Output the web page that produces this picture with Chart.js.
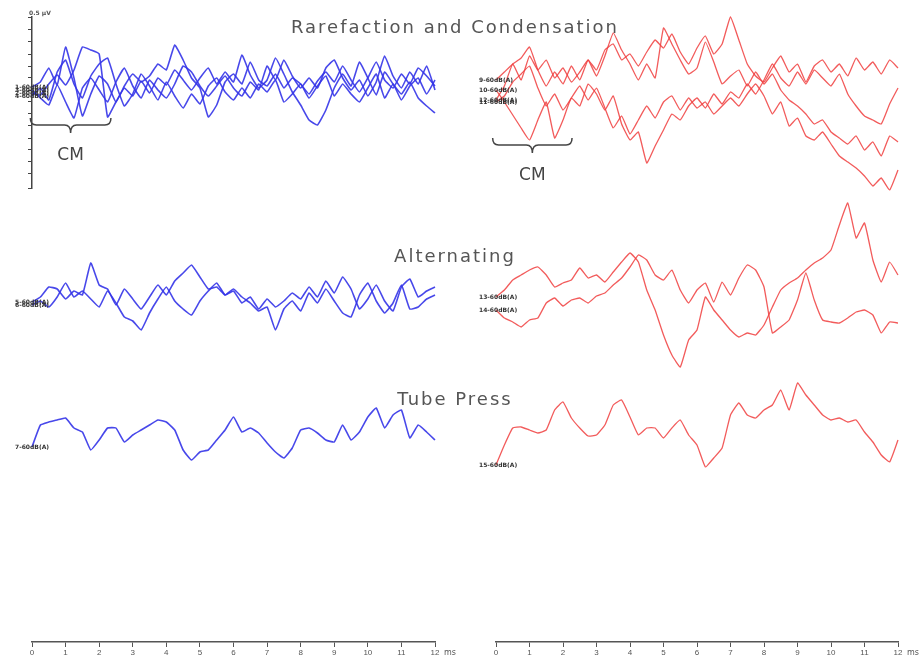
<!DOCTYPE html>
<html>
<head>
<meta charset="utf-8">
<script src="https://cdn.jsdelivr.net/npm/chart.js@4/dist/chart.umd.min.js"></script>
<style>
  html, body { margin: 0; padding: 0; background: #fff; }
  #wrap { position: relative; width: 922px; height: 659px; overflow: hidden; }
  canvas { position: absolute; top: 0; }
  #left { left: 0; }
  #right { left: 461px; }
  .title { position: absolute; transform: translateX(-50%); font: 18px "DejaVu Sans", sans-serif; letter-spacing: 2px; color: #555; white-space: nowrap; line-height: 1; }
</style>
</head>
<body>
<div id="wrap">
  <canvas id="left" width="461" height="659"></canvas>
  <canvas id="right" width="461" height="659"></canvas>
  <div class="title" style="left:455px;top:18px">Rarefaction and Condensation</div>
  <div class="title" style="left:455px;top:247px">Alternating</div>
  <div class="title" style="left:455px;top:390px">Tube Press</div>
</div>
<script>
"use strict";

// Sample times (ms) shared by every trace.
const timeMs = [
  0, 0.25, 0.5, 0.75, 1, 1.25, 1.5, 1.75, 2, 2.25, 2.5, 2.75,
  3, 3.25, 3.5, 3.75, 4, 4.25, 4.5, 4.75, 5, 5.25, 5.5, 5.75,
  6, 6.25, 6.5, 6.75, 7, 7.25, 7.5, 7.75, 8, 8.25, 8.5, 8.75,
  9, 9.25, 9.5, 9.75, 10, 10.25, 10.5, 10.75, 11, 11.25, 11.5, 11.75, 12,
];
const msTicks = [0, 1, 2, 3, 4, 5, 6, 7, 8, 9, 10, 11, 12];

// Rarefaction and Condensation, left (blue)
const leftRare1 = [
  0.3, 0.8, 2.2, 0.5, 4.3, 1.2, -2.6, -0.4, 1.4, 0.6, -1.2, 0.4,
  1.6, 0.8, 1.4, 2.6, 2.0, 4.5, 3.0, 1.2, 0.2, -2.7, -1.5, 0.8,
  1.6, 0.6, 2.8, 1.0, 0.4, 1.6, 0.2, 1.2, 0.6, -0.4, 0.9, 1.8,
  0.8, 2.4, 1.0, -0.2, 1.2, 2.8, 1.0, 0.2, 1.6, 0.6, 2.2, 1.4, 0.4,
];
const leftRare2 = [
  -0.3, -0.5, 0.6, 1.5, 0.5, 2.0, 4.3, 4.0, 3.6, -2.7, -1.2, 0.2,
  -0.6, 0.9, -0.3, 1.2, 0.5, 2.0, 1.0, 0.0, 1.2, 2.2, 0.6, 1.8,
  0.8, 3.5, 1.5, 0.2, 1.0, 3.2, 1.6, -0.2, -1.5, -3.0, -3.5, -2.0,
  0.2, 1.6, 0.4, 2.8, 1.2, -0.5, 1.8, 0.6, -0.4, 0.8, -0.8, -1.6, -2.3,
];
const leftRare3 = [
  0.0, -0.8, -1.5, 0.5, -1.2, -2.8, 0.2, 1.2, 0.0, -1.2, 0.8, 2.2,
  0.4, -0.8, 1.0, 0.0, -0.8, 0.6, 2.4, 1.8, 0.4, -0.6, 0.4, 1.4,
  0.2, -0.6, 0.8, 0.0, 2.4, 1.0, 3.0, 1.4, 0.2, 1.2, 0.2, 2.2,
  3.0, 1.2, 0.0, 1.0, -0.6, 0.8, 3.4, 1.4, 0.2, 1.8, 0.6, 2.4, 0.0,
];
const leftRare4 = [
  -0.6, 0.2, -1.0, 1.8, 3.0, 0.6, -0.8, 1.4, 2.6, 3.2, 0.6, -1.6,
  -0.4, 1.6, 0.4, -1.0, 0.8, -0.6, -1.8, -0.4, -1.4, 0.4, 1.2, -0.2,
  -1.0, 0.2, -0.8, 0.6, -0.2, 1.0, -1.2, -0.4, 0.6, -0.8, 0.4, 1.4,
  -0.6, 0.6, -0.4, -1.2, 0.2, 1.6, -0.8, 0.6, -1.0, 0.4, 1.2, -0.4, 1.0,
];

// Rarefaction and Condensation, right (red)
const rightRare1 = [
  1.0, 1.8, 2.6, 3.2, 4.3, 2.0, 0.4, 1.8, 0.6, 2.4, 1.0, 3.0,
  2.0, 4.0, 4.6, 3.0, 3.6, 2.4, 3.8, 5.0, 4.2, 5.6, 3.8, 2.6,
  4.2, 5.4, 3.6, 4.6, 7.3, 5.0, 2.6, 1.4, 0.8, 2.2, 3.4, 1.8,
  2.6, 0.8, 2.4, 3.0, 1.8, 2.6, 1.4, 3.2, 2.0, 2.8, 1.6, 3.0, 2.2,
];
const rightRare2 = [
  0.0, -1.2, -2.5, -3.8, -5.0, -3.0, -1.2, -4.8, -3.0, -0.8, -1.6, 0.6,
  -0.4, -2.0, -0.6, -3.4, -5.0, -4.2, -7.3, -5.6, -4.0, -2.4, -3.0, -1.6,
  -0.8, -1.8, -0.4, -1.4, -0.2, -0.8, 0.6, -0.4, 1.0, 2.6, 1.2, 0.4,
  1.8, 0.6, 2.0, 1.2, 0.4, 1.6, -0.4, -1.6, -2.6, -3.0, -3.4, -1.4, 0.2,
];
const rightRare3 = [
  -1.2, -0.6, 0.8, 1.6, 2.4, 0.2, -1.6, -0.4, -2.0, -0.8, 0.4, -1.0,
  0.2, -1.8, -3.8, -2.6, -4.4, -3.0, -1.6, -2.8, -1.2, -0.6, -2.0, -0.8,
  -1.8, -1.2, -2.4, -1.6, -0.8, -1.6, -0.4, 0.6, -0.6, -2.4, -1.2, -3.6,
  -2.8, -4.6, -5.0, -4.2, -5.4, -6.6, -7.2, -7.8, -8.6, -9.6, -8.8, -10.0, -8.0,
];
const rightRare4 = [
  -1.0, 0.4, 2.6, 1.0, 3.4, 2.0, 3.0, 1.2, 2.2, 0.8, 1.8, 3.0,
  1.4, 3.4, 5.7, 4.0, 2.6, 1.0, 2.6, 1.2, 6.2, 4.6, 3.0, 1.6,
  2.2, 4.8, 2.8, 0.6, 1.4, 2.0, 0.4, 1.8, 0.6, 1.6, 0.0, -1.0,
  -1.6, -2.4, -3.4, -3.0, -4.2, -4.8, -5.4, -4.6, -6.0, -5.2, -6.6, -4.6, -5.2,
];

// Alternating
const leftAlt1 = [
  0.3, 0.8, 1.8, 1.6, 0.6, 1.4, 1.0, 4.2, 2.0, 1.6, 0.0, 1.6,
  0.6, -0.4, 0.8, 2.0, 1.0, 2.4, 3.2, 4.0, 2.8, 1.6, 1.8, 1.0,
  1.4, 0.2, 0.8, -0.4, 0.6, -0.2, 0.4, 1.2, 0.6, 1.8, 0.8, 2.4,
  1.2, 2.8, 1.6, -0.4, 0.6, 2.0, 0.4, -0.6, 1.8, 2.6, 0.8, 1.4, 1.8,
];
const leftAlt2 = [
  0.0, 0.4, -0.2, 0.8, 2.2, 0.8, 1.4, 0.6, -0.2, 1.4, 0.2, -1.2,
  -1.6, -2.5, -0.8, 0.6, 1.8, 0.4, -0.4, -1.0, 0.4, 1.4, 2.2, 1.0,
  1.6, 0.8, 0.2, -0.6, -0.2, -2.5, -0.4, 0.4, -0.6, 1.2, 0.2, 1.6,
  0.4, -0.8, -1.2, 1.0, 2.2, 0.4, -0.8, 0.2, 2.0, -0.4, -0.2, 0.6, 1.0,
];
const rightAlt1 = [
  0.8, 1.5, 2.5, 3.0, 3.5, 3.8, 3.0, 1.8, 2.2, 2.5, 3.7, 2.7,
  3.0, 2.3, 3.3, 4.3, 5.2, 4.3, 1.5, -0.5, -3.0, -5.0, -6.2, -3.5,
  -2.5, 0.8, -0.5, -1.5, -2.5, -3.2, -2.8, -3.0, -2.0, -0.2, 1.5, 2.2,
  2.7, 3.5, 4.2, 4.7, 5.5, 8.0, 10.2, 6.7, 8.2, 4.5, 2.3, 4.3, 3.0,
];
const rightAlt2 = [
  -0.5, -1.3, -1.7, -2.2, -1.5, -1.3, 0.2, 0.7, -0.1, 0.5, 0.7, 0.2,
  0.9, 1.2, 2.0, 2.7, 3.8, 5.0, 4.5, 3.0, 2.5, 3.5, 1.5, 0.2,
  1.5, 2.2, 0.3, 2.3, 1.0, 2.7, 4.0, 3.5, 1.8, -2.8, -2.2, -1.5,
  0.5, 3.2, 0.5, -1.5, -1.7, -1.8, -1.3, -0.7, -0.5, -1.0, -2.8, -1.7, -1.8,
];

// Tube Press
const leftTube = [
  -0.1, 2.1, 2.4, 2.6, 2.8, 1.8, 1.4, -0.4, 0.6, 1.8, 1.8, 0.4,
  1.1, 1.6, 2.1, 2.6, 2.4, 1.6, -0.4, -1.4, -0.6, -0.4, 0.6, 1.6,
  2.9, 1.4, 1.8, 1.3, 0.3, -0.6, -1.2, -0.2, 1.6, 1.8, 1.3, 0.6,
  0.4, 2.1, 0.6, 1.4, 2.9, 3.8, 1.8, 3.1, 3.6, 0.8, 2.1, 1.4, 0.6,
];
const rightTube = [
  -1.9, 0.1, 1.8, 1.9, 1.6, 1.3, 1.6, 3.6, 4.4, 2.8, 1.8, 1.0,
  1.1, 2.1, 4.1, 4.6, 2.9, 1.1, 1.8, 1.8, 0.8, 1.8, 2.6, 1.1,
  0.1, -2.1, -1.2, -0.2, 3.1, 4.3, 3.1, 2.8, 3.6, 4.1, 5.6, 3.6,
  6.3, 5.1, 4.1, 3.1, 2.6, 2.8, 2.4, 2.6, 1.4, 0.4, -0.9, -1.6, 0.6,
];

const BLUE = "rgba(52, 52, 232, 0.9)";
const RED = "rgba(240, 62, 62, 0.85)";
const INK = "#444";

// CM bracket spans, in ms and panel units
const cmBracket = {
  left: { from: -0.05, to: 2.35, at: -2.8 },
  right: { from: -0.1, to: 2.27, at: -4.8 },
};

function trace(label, values, color, axis, width) {
  return {
    label,
    yAxisID: axis,
    data: values.map((v, i) => ({ x: timeMs[i], y: v })),
    borderColor: color,
    borderWidth: width,
    pointRadius: 0,
    tension: 0.12,
    fill: false,
    clip: false,
  };
}

function panelAxis(weight, stackWeight, min, max) {
  return {
    type: "linear", axis: "y", position: "left", stack: "panels",
    weight, stackWeight, min, max, display: false,
  };
}

function buildScales(showAxis) {
  const yRare = panelAxis(4, 171, -9.8, 7.3);
  if (showAxis) {
    Object.assign(yRare, {
      display: true,
      ticks: { display: false, stepSize: 1.2 },
      grid: { drawOnChartArea: false, drawTicks: true, tickLength: 4, color: INK },
      border: { color: INK, width: 1.5 },
      afterFit: (s) => { s.width = 6; },
    });
  }
  return {
    x: {
      type: "linear", position: "bottom", min: 0, max: 12,
      afterBuildTicks: (s) => { s.ticks = msTicks.map((v) => ({ value: v })); },
      grid: { drawOnChartArea: false, tickLength: 5, color: "#555" },
      border: { color: "#555", width: 1.5 },
      ticks: { font: { size: 8 }, color: "#555", padding: 1, maxRotation: 0 },
      afterFit: (s) => { s.height = 17; },
    },
    yRare,
    yAlt: panelAxis(3, 190, -7.3, 11.7),
    yTube: panelAxis(2, 102, -3.4, 6.8),
    yBlank: panelAxis(1, 162, 0, 1),
  };
}

// Small run labels at the start of each trace, the CM bracket, "ms" unit.
const decorations = {
  id: "decorations",
  afterDatasetsDraw(chart, args, opts) {
    const { ctx } = chart;
    ctx.save();
    ctx.fillStyle = "#333";
    ctx.font = "bold 6px 'DejaVu Sans'";
    ctx.textAlign = "left";
    ctx.textBaseline = "middle";
    chart.data.datasets.forEach((ds, i) => {
      const p = chart.getDatasetMeta(i).data[0];
      ctx.fillText(ds.label, p.x - 17, p.y);
    });

    const x = chart.scales.x;
    const yr = chart.scales.yRare;
    const b = opts.bracket;
    const x0 = x.getPixelForValue(b.from);
    const x1 = x.getPixelForValue(b.to);
    const xm = (x0 + x1) / 2;
    const y0 = yr.getPixelForValue(b.at);
    const y1 = y0 + 7;
    const y2 = y0 + 15;
    ctx.strokeStyle = INK;
    ctx.lineWidth = 1.5;
    ctx.beginPath();
    ctx.moveTo(x0, y0);
    ctx.quadraticCurveTo(x0, y1, x0 + 6, y1);
    ctx.lineTo(xm - 6, y1);
    ctx.quadraticCurveTo(xm, y1, xm, y2);
    ctx.quadraticCurveTo(xm, y1, xm + 6, y1);
    ctx.lineTo(x1 - 6, y1);
    ctx.quadraticCurveTo(x1, y1, x1, y0);
    ctx.stroke();
    ctx.fillStyle = INK;
    ctx.font = "17px 'DejaVu Sans'";
    ctx.textAlign = "center";
    ctx.textBaseline = "top";
    ctx.fillText("CM", xm, y2 + 14);

    ctx.fillStyle = "#555";
    ctx.font = "8px 'DejaVu Sans'";
    ctx.textAlign = "left";
    ctx.fillText("ms", x.getPixelForValue(12) + 9, x.bottom - 10);

    if (opts.unit) {
      ctx.font = "bold 6px 'DejaVu Sans'";
      ctx.textBaseline = "bottom";
      ctx.fillText(opts.unit, yr.right - 3, yr.top - 1);
    }
    ctx.restore();
  },
};

function makeChart(id, datasets, padLeft, padRight, showAxis, bracket) {
  return new Chart(document.getElementById(id), {
    type: "line",
    data: { datasets },
    options: {
      responsive: false,
      animation: false,
      layout: { padding: { left: padLeft, right: padRight, top: 17, bottom: 0 } },
      scales: buildScales(showAxis),
      plugins: {
        legend: { display: false },
        tooltip: { enabled: false },
        decorations: { bracket, unit: showAxis ? "0.5 µV" : null },
      },
    },
    plugins: [decorations],
  });
}

makeChart("left", [
  trace("1-60dB(A)", leftRare1, BLUE, "yRare", 1.6),
  trace("2-60dB(A)", leftRare2, BLUE, "yRare", 1.6),
  trace("3-60dB(A)", leftRare3, BLUE, "yRare", 1.6),
  trace("4-60dB(A)", leftRare4, BLUE, "yRare", 1.6),
  trace("5-60dB(A)", leftAlt1, BLUE, "yAlt", 1.6),
  trace("6-60dB(A)", leftAlt2, BLUE, "yAlt", 1.6),
  trace("7-60dB(A)", leftTube, BLUE, "yTube", 1.6),
], 26, 26, true, cmBracket.left);

makeChart("right", [
  trace("9-60dB(A)", rightRare1, RED, "yRare", 1.3),
  trace("10-60dB(A)", rightRare2, RED, "yRare", 1.3),
  trace("11-60dB(A)", rightRare3, RED, "yRare", 1.3),
  trace("12-60dB(A)", rightRare4, RED, "yRare", 1.3),
  trace("13-60dB(A)", rightAlt1, RED, "yAlt", 1.3),
  trace("14-60dB(A)", rightAlt2, RED, "yAlt", 1.3),
  trace("15-60dB(A)", rightTube, RED, "yTube", 1.3),
], 35, 24, false, cmBracket.right);
</script>
</body>
</html>
